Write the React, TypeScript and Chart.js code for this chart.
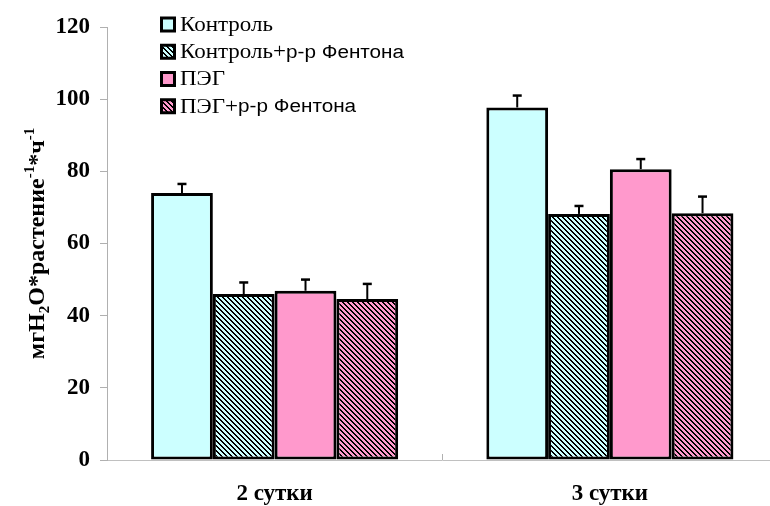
import { useEffect, useRef } from 'react';
import { Chart, registerables } from 'chart.js';

Chart.register(...registerables);

const categories = ['2 сутки', '3 сутки'];
const seriesNames = ['Контроль', 'Контроль+р-р Фентона', 'ПЭГ', 'ПЭГ+р-р Фентона'];
const control = [74.0, 97.7];
const controlFenton = [46.0, 68.2];
const peg = [46.9, 80.6];
const pegFenton = [44.6, 68.4];
const controlErr = [2.5, 3.3];
const controlFentonErr = [3.2, 2.2];
const pegErr = [3.1, 2.8];
const pegFentonErr = [4.2, 4.6];
const yTickValues = [0, 20, 40, 60, 80, 100, 120];

const CYAN = '#CCFFFF';
const PINK = '#FF99CC';
const SERIF = '"Liberation Serif", "Times New Roman", serif';
const SANS = '"Liberation Sans", Arial, sans-serif';

function hatch(color: string): CanvasPattern {
  const n = 5;
  const w = 2;
  const c = document.createElement('canvas');
  c.width = n;
  c.height = n;
  const g = c.getContext('2d')!;
  g.fillStyle = color;
  g.fillRect(0, 0, n, n);
  g.fillStyle = '#000';
  for (let y = 0; y < n; y++) {
    for (let x = 0; x < n; x++) {
      if ((((x - y) % n) + n) % n < w) g.fillRect(x, y, 1, 1);
    }
  }
  return g.createPattern(c, 'repeat')!;
}

const errorBarsPlugin = {
  id: 'errorBars',
  afterDatasetsDraw(chart: any) {
    const ctx = chart.ctx;
    const y = chart.scales.y;
    chart.data.datasets.forEach((ds: any, i: number) => {
      const meta = chart.getDatasetMeta(i);
      meta.data.forEach((bar: any, j: number) => {
        const v = ds.data[j];
        const e = ds.errors[j];
        const x = bar.x;
        const yTop = y.getPixelForValue(v);
        const yCap = y.getPixelForValue(v + e);
        ctx.save();
        ctx.strokeStyle = '#000';
        ctx.lineWidth = 2;
        ctx.beginPath();
        ctx.moveTo(x, yTop);
        ctx.lineTo(x, yCap);
        ctx.stroke();
        ctx.lineWidth = 2.5;
        ctx.beginPath();
        ctx.moveTo(x - 4.5, yCap);
        ctx.lineTo(x + 4.5, yCap);
        ctx.stroke();
        ctx.restore();
      });
    });
  },
};

const decorPlugin = {
  id: 'decor',
  afterDraw(chart: any) {
    const ctx = chart.ctx;
    const area = chart.chartArea;
    const xs = chart.scales.x;
    // category separator tick on x axis (pointing up)
    ctx.save();
    ctx.strokeStyle = '#b0b0b0';
    ctx.lineWidth = 1;
    for (let k = 0; k < categories.length - 1; k++) {
      const xm = Math.round((xs.getPixelForValue(k) + xs.getPixelForValue(k + 1)) / 2) + 0.5;
      ctx.beginPath();
      ctx.moveTo(xm, area.bottom);
      ctx.lineTo(xm, area.bottom - 6);
      ctx.stroke();
    }
    ctx.restore();

    // y-axis title with sub/superscripts
    const parts: [string, number][] = [
      ['мгH', 0],
      ['2', 1],
      ['O*растение', 0],
      ['-1', -1],
      ['*ч', 0],
      ['-1', -1],
    ];
    const bigFont = `bold 24px ${SERIF}`;
    const smallFont = `bold 15px ${SERIF}`;
    ctx.save();
    let total = 0;
    parts.forEach(([t, s]) => {
      ctx.font = s === 0 ? bigFont : smallFont;
      total += ctx.measureText(t).width;
    });
    const cx = 34;
    const cy = (area.top + area.bottom) / 2;
    ctx.translate(cx, cy);
    ctx.rotate(-Math.PI / 2);
    ctx.fillStyle = '#000';
    ctx.textBaseline = 'alphabetic';
    let px = -total / 2;
    const base = 10;
    parts.forEach(([t, s]) => {
      ctx.font = s === 0 ? bigFont : smallFont;
      const dy = s === 0 ? 0 : s > 0 ? 5 : -10;
      ctx.fillText(t, px, base + dy);
      px += ctx.measureText(t).width;
    });
    ctx.restore();

    // legend
    const fills = chart.data.datasets.map((d: any) => d.backgroundColor);
    const left = area.left + 53;
    const top0 = area.top - 2.5;
    const step = 27.25;
    const sx = 1.15;
    ctx.save();
    seriesNames.forEach((name, i) => {
      const cyy = top0 + i * step;
      const bs = 16;
      ctx.fillStyle = '#000';
      ctx.fillRect(left, cyy - bs / 2, bs, bs);
      ctx.fillStyle = fills[i];
      ctx.fillRect(left + 3, cyy - bs / 2 + 3, bs - 6, bs - 6);
      ctx.fillStyle = '#000';
      ctx.textBaseline = 'middle';
      const plus = name.indexOf('+');
      const serifPart = plus >= 0 ? name.slice(0, plus + 1) : name;
      const sansPart = plus >= 0 ? name.slice(plus + 1) : '';
      ctx.save();
      ctx.translate(left + 20, cyy + 1);
      ctx.scale(sx, 1);
      ctx.font = `20px ${SERIF}`;
      ctx.fillText(serifPart, 0, 0);
      const w1 = ctx.measureText(serifPart).width;
      if (sansPart) {
        ctx.font = `18px ${SANS}`;
        ctx.fillText(sansPart, w1, 0);
      }
      ctx.restore();
    });
    ctx.restore();
  },
};

export default function App() {
  const ref = useRef<HTMLCanvasElement | null>(null);

  useEffect(() => {
    const canvas = ref.current!;
    const seriesValues = [control, controlFenton, peg, pegFenton];
    const seriesErrors = [controlErr, controlFentonErr, pegErr, pegFentonErr];
    const fills = [CYAN, hatch(CYAN), PINK, hatch(PINK)];
    const chart = new Chart(canvas, {
      type: 'bar',
      data: {
        labels: categories,
        datasets: seriesNames.map((name, i) => ({
          label: name,
          data: seriesValues[i],
          errors: seriesErrors[i],
          backgroundColor: fills[i],
          borderColor: '#000',
          borderWidth: 3,
          borderSkipped: false,
          inflateAmount: 0,
          categoryPercentage: 0.737,
          barPercentage: 1,
        })) as any,
      },
      options: {
        responsive: false,
        animation: false,
        devicePixelRatio: 1,
        layout: { padding: { top: 27, right: 12.5, left: 0, bottom: 0 } },
        plugins: {
          legend: { display: false },
          tooltip: { enabled: false },
          title: { display: false },
        },
        scales: {
          x: {
            type: 'category',
            grid: { display: false },
            border: { display: true, color: '#c0c0c0', width: 1 },
            ticks: {
              color: '#000',
              padding: 12,
              font: { family: SERIF, size: 23, weight: 'bold' },
            },
            afterFit(scale: any) {
              scale.height = 46;
            },
          },
          y: {
            min: yTickValues[0],
            max: yTickValues[yTickValues.length - 1],
            ticks: {
              stepSize: yTickValues[1] - yTickValues[0],
              color: '#000',
              padding: 10,
              font: { family: SERIF, size: 23, weight: 'bold' },
            },
            grid: {
              display: true,
              drawOnChartArea: false,
              drawTicks: true,
              tickLength: 7,
              color: '#b0b0b0',
            },
            border: { display: true, color: '#b0b0b0', width: 1 },
            afterFit(scale: any) {
              scale.width = 107;
            },
          },
        },
      },
      plugins: [errorBarsPlugin, decorPlugin],
    } as any);
    return () => chart.destroy();
  }, []);

  return (
    <div
      style={{
        position: 'fixed',
        left: 0,
        top: 0,
        width: 770,
        height: 506,
        overflow: 'hidden',
        background: '#fff',
      }}
    >
      <canvas ref={ref} width={790} height={506} style={{ display: 'block' }} />
    </div>
  );
}
